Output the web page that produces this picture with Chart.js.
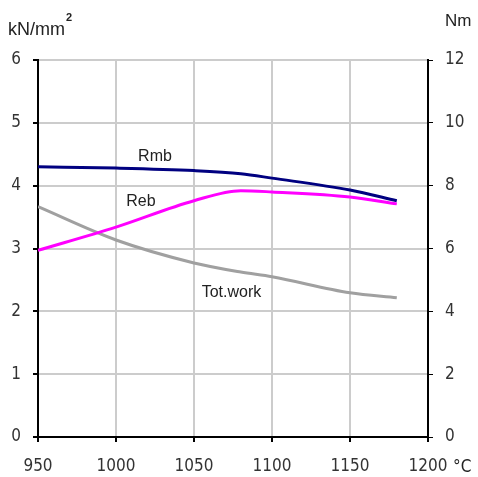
<!DOCTYPE html>
<html>
<head>
<meta charset="utf-8">
<script src="https://cdn.jsdelivr.net/npm/chart.js@4/dist/chart.umd.min.js"></script>
<style>
  html, body { margin: 0; padding: 0; background: #fff; }
  #wrap { width: 478px; height: 477px; }
</style>
</head>
<body>
<div id="wrap"><canvas id="lineChart" width="478" height="477"></canvas></div>
<script>
// Temperatures (°C) and readings
const temps = [950, 1000, 1050, 1080, 1100, 1150, 1180];
const rmb = [4.30, 4.28, 4.24, 4.19, 4.12, 3.93, 3.76];      // kN/mm2
const reb = [2.97, 3.34, 3.76, 3.92, 3.90, 3.82, 3.71];      // kN/mm2
const totWork = [7.33, 6.27, 5.54, 5.25, 5.10, 4.59, 4.43];  // Nm

const xTicks = [950, 1000, 1050, 1100, 1150, 1200];
const leftTicks = [0, 1, 2, 3, 4, 5, 6];
const rightTicks = [0, 2, 4, 6, 8, 10, 12];

// Labels placed next to the curves, in data coords
const curveLabels = [
    { text: "Rmb", x: 1025, y: 4.46, axis: "y" },
    { text: "Reb", x: 1016, y: 3.74, axis: "y" },
    { text: "Tot.work", x: 1074, y: 4.6, axis: "y2" },
];

const font = "Liberation Sans, Arial, sans-serif";
const narrow = "'Liberation Sans Narrow', 'Arial Narrow', 'DejaVu Sans Condensed', sans-serif";

function toPoints(ys) {
    return temps.map((t, i) => ({ x: t, y: ys[i] }));
}

// Draws curve labels and unit captions
const textPlugin = {
    id: "texts",
    afterDraw(chart) {
        const ctx = chart.ctx;
        const xs = chart.scales.x;
        ctx.save();
        ctx.fillStyle = "#222";
        ctx.font = "16px " + font;
        ctx.textAlign = "center";
        ctx.textBaseline = "middle";
        curveLabels.forEach(l => {
            const sc = chart.scales[l.axis];
            ctx.fillText(l.text, xs.getPixelForValue(l.x), sc.getPixelForValue(l.y));
        });
        ctx.textAlign = "left";
        ctx.textBaseline = "alphabetic";
        ctx.font = "18px " + font;
        ctx.fillText("kN/mm", 8, 35);
        const w = ctx.measureText("kN/mm").width;
        ctx.font = "bold 11px " + font;
        ctx.fillText("2", 8 + w + 1, 21);
        ctx.font = "17px " + font;
        ctx.fillText("Nm", 445, 26);
        ctx.font = "17px " + narrow;
        ctx.textBaseline = "middle";
        ctx.fillText("°C", 453, 468);
        ctx.restore();
    }
};

const tickFont = { family: narrow, size: 17 };

const config = {
    type: "line",
    data: {
        datasets: [
            {
                label: "Rmb",
                data: toPoints(rmb),
                borderColor: "#000080",
                borderWidth: 3,
                yAxisID: "y",
            },
            {
                label: "Reb",
                data: toPoints(reb),
                borderColor: "#ff00ff",
                borderWidth: 3,
                yAxisID: "y",
            },
            {
                label: "Tot.work",
                data: toPoints(totWork),
                borderColor: "#a0a0a0",
                borderWidth: 3,
                yAxisID: "y2",
            },
        ],
    },
    options: {
        responsive: false,
        animation: false,
        layout: { padding: { top: 60, left: 0, right: 0, bottom: 0 } },
        elements: {
            point: { radius: 0 },
            line: { cubicInterpolationMode: "monotone" },
        },
        plugins: { legend: { display: false }, tooltip: { enabled: false } },
        scales: {
            x: {
                type: "linear",
                min: 950,
                max: 1200,
                afterBuildTicks: s => { s.ticks = xTicks.map(v => ({ value: v })); },
                afterFit: s => { s.height = 40; },
                grid: { color: "#cccccc", lineWidth: 2, tickColor: "#000", tickLength: 5 },
                border: { color: "#000", width: 2 },
                ticks: { color: "#333", font: tickFont, padding: 14, maxRotation: 0, callback: v => String(v) },
            },
            y: {
                position: "left",
                min: 0,
                max: 6,
                afterBuildTicks: s => { s.ticks = leftTicks.map(v => ({ value: v })); },
                afterFit: s => { s.width = 38; },
                grid: { color: "#cccccc", lineWidth: 2, tickColor: "#000", tickLength: 5 },
                border: { color: "#000", width: 2 },
                ticks: { color: "#333", font: tickFont, padding: 12 },
            },
            y2: {
                position: "right",
                min: 0,
                max: 12,
                afterBuildTicks: s => { s.ticks = rightTicks.map(v => ({ value: v })); },
                afterFit: s => { s.width = 50; },
                grid: { drawOnChartArea: false, tickColor: "#000", tickLength: 5 },
                border: { color: "#000", width: 2 },
                ticks: { color: "#333", font: tickFont, padding: 12 },
            },
        },
    },
    plugins: [textPlugin],
};

const ctx = document.getElementById("lineChart").getContext("2d");
new Chart(ctx, config);
</script>
</body>
</html>
